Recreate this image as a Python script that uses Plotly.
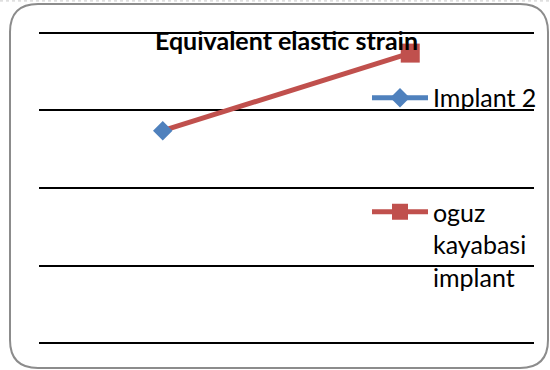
import plotly.graph_objects as go

# Series data (two categories on the x axis)
categories = [1, 2]
implant2_values = [2.74, None]
oguz_values = [2.74, 3.74]

series_names = ["Implant 2", "oguz<br>kayabasi<br>implant"]
title_text = "Equivalent elastic strain"

BLUE = "#4F81BD"
RED = "#C0504D"
FONT = "Lato, Arial, sans-serif"

W, H = 550, 370
# plot area: gridline 4 at y=33px, gridline 0 at y=343px
Y_LO, Y_HI, PAD = 0.0, 4.0, 0.025
GRID_TOP, GRID_BOT = 33, 343
unit = (GRID_BOT - GRID_TOP) / (Y_HI - Y_LO)
T = GRID_TOP - PAD * unit
B = H - GRID_BOT - PAD * unit
L, R = 39, 16
PW, PH = W - L - R, H - T - B


def px(x):
    return (x - L) / PW


def py(y):
    return (H - B - y) / PH


fig = go.Figure()

fig.add_trace(go.Scatter(
    x=categories, y=oguz_values, name=series_names[1],
    mode="lines+markers",
    line=dict(color=RED, width=5),
    marker=dict(symbol="square", size=19, color=RED),
    selectedpoints=[1],
    selected=dict(marker=dict(opacity=1)),
    unselected=dict(marker=dict(opacity=0)),
    legend="legend2",
))
fig.add_trace(go.Scatter(
    x=categories, y=implant2_values, name=series_names[0],
    mode="lines+markers",
    line=dict(color=BLUE, width=5),
    marker=dict(symbol="diamond", size=15, color=BLUE),
    legend="legend",
))

# rounded chart-area frame
x0, x1, y0, y1, r = px(10), px(548), py(4), py(368), 28
rx, ry = r / PW, r / PH
frame = (
    f"M {x0},{y0 - ry} L {x0},{y1 + ry} Q {x0},{y1} {x0 + rx},{y1} "
    f"L {x1 - rx},{y1} Q {x1},{y1} {x1},{y1 + ry} "
    f"L {x1},{y0 - ry} Q {x1},{y0} {x1 - rx},{y0} "
    f"L {x0 + rx},{y0} Q {x0},{y0} {x0},{y0 - ry} Z"
)

fig.update_layout(
    width=W, height=H,
    margin=dict(l=L, r=R, t=T, b=B, pad=0, autoexpand=False),
    paper_bgcolor="white", plot_bgcolor="white",
    font=dict(family=FONT, color="black"),
    xaxis=dict(range=[0.5, 2.5], showgrid=False, zeroline=False,
               showticklabels=False, showline=False, ticks=""),
    yaxis=dict(range=[Y_LO - PAD, Y_HI + PAD], tick0=0, dtick=1,
               showgrid=True, gridcolor="black", gridwidth=1.6,
               zeroline=False, showticklabels=False, showline=False,
               ticks=""),
    legend=dict(x=px(367), y=py(98), xanchor="left", yanchor="middle",
                bgcolor="rgba(0,0,0,0)", font=dict(size=25, family=FONT),
                itemwidth=56),
    legend2=dict(x=px(367), y=py(189), xanchor="left", yanchor="top",
                 valign="top",
                 bgcolor="rgba(0,0,0,0)", font=dict(size=25, family=FONT),
                 itemwidth=56),
    shapes=[
        dict(type="path", path=frame, xref="paper", yref="paper",
             line=dict(color="#8c8c8c", width=2), fillcolor="rgba(0,0,0,0)",
             layer="below"),
        dict(type="line", xref="paper", yref="paper",
             x0=px(0), x1=px(550), y0=py(1), y1=py(1),
             line=dict(color="#c8c8c8", width=1, dash="dot")),
    ],
    annotations=[dict(
        text=f"<b>{title_text}</b>", x=px(286), y=py(40),
        xref="paper", yref="paper", xanchor="center", yanchor="middle",
        showarrow=False, font=dict(size=25, family=FONT, color="black"),
    )],
    showlegend=True,
)

fig.write_html("out.html")
